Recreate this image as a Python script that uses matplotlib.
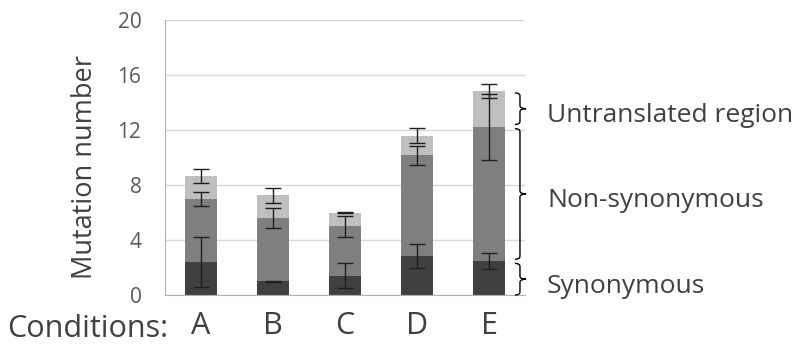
import numpy as np
import matplotlib
matplotlib.use("Agg")
import matplotlib.pyplot as plt
from matplotlib.path import Path
from matplotlib.patches import PathPatch

plt.rcParams['font.family'] = ['Open Sans', 'DejaVu Sans']

conditions = ['A', 'B', 'C', 'D', 'E']
synonymous = [2.4, 1.0, 1.4, 2.85, 2.45]
non_synonymous = [4.6, 4.6, 3.6, 7.3, 9.8]
untranslated = [1.65, 1.65, 1.0, 1.45, 2.6]

syn_err = [1.8, 0.05, 0.9, 0.86, 0.57]
nonsyn_err = [0.52, 0.76, 0.75, 0.7, 2.4]
utr_err = [0.52, 0.53, 0.05, 0.53, 0.53]

layers = [
    (synonymous, syn_err, '#404040', 'Synonymous'),
    (non_synonymous, nonsyn_err, '#7f7f7f', 'Non-synonymous'),
    (untranslated, utr_err, '#bfbfbf', 'Untranslated region'),
]

text_col = '#404040'

fig = plt.figure(figsize=(7.96, 3.44), dpi=100)
ax = fig.add_axes([165 / 796, 1 - 295 / 344, 360 / 796, 275 / 344])

x = np.arange(len(conditions))
bottom = np.zeros(len(conditions))
for vals, errs, col, name in layers:
    vals = np.array(vals)
    ax.bar(x, vals, 0.44, bottom=bottom, color=col, zorder=2)
    top = bottom + vals
    ax.errorbar(x, top, yerr=errs, fmt='none', ecolor='#1e1e1e',
                elinewidth=1.0, capsize=5.5, capthick=1.0, zorder=3)
    bottom = top

ax.set_xlim(-0.5, 4.5)
ax.set_ylim(0, 20)
ax.set_yticks([0, 4, 8, 12, 16, 20])
ax.set_xticks(x)
ax.set_xticklabels(conditions)
ax.yaxis.grid(True, color='#d9d9d9', linewidth=1.0, zorder=0)
ax.set_axisbelow(True)
for s in ['top', 'right']:
    ax.spines[s].set_visible(False)
ax.spines['left'].set_color('#b0b0b0')
ax.spines['bottom'].set_color('#b0b0b0')
ax.tick_params(axis='y', length=0, pad=17, labelsize=15, labelcolor='#595959')
ax.tick_params(axis='x', length=0, pad=11.5, labelsize=22, labelcolor=text_col)

fig.text(85 / 796, 1 - 167 / 344, 'Mutation number', rotation=90,
         ha='center', va='center', fontsize=19.5, color=text_col)
ax.annotate('Conditions:', xy=(-0.5 + (168 - 165) / 72, 0),
            xycoords=ax.get_xaxis_transform(), xytext=(0, -30),
            textcoords='offset points', ha='right', va='baseline',
            fontsize=22, color=text_col, annotation_clip=False)


# curly braces next to the last bar, one per segment
def brace(y0, y1, x_hook=4.36, x_line=4.43, x_tip=4.515, r=0.22):
    mid = (y0 + y1) / 2
    verts = [(x_hook, y1), (x_line, y1), (x_line, y1 - r),
             (x_line, mid + r), (x_line, mid), (x_tip, mid),
             (x_line, mid), (x_line, mid - r),
             (x_line, y0 + r), (x_line, y0), (x_hook, y0)]
    codes = [Path.MOVETO, Path.CURVE3, Path.CURVE3,
             Path.LINETO, Path.CURVE3, Path.CURVE3,
             Path.CURVE3, Path.CURVE3,
             Path.LINETO, Path.CURVE3, Path.CURVE3]
    ax.add_patch(PathPatch(Path(verts, codes), fill=False, edgecolor='black',
                           linewidth=1.0, clip_on=False, zorder=4))
    return mid


gap = 0.15
y = 0.0
for vals, errs, col, name in layers:
    lo, hi = y, y + vals[-1]
    mid = brace(lo + (gap if lo > 0 else 0), hi - gap)
    ax.annotate(name, xy=(4.806, mid), xytext=(0, -5),
                textcoords='offset points', ha='left', va='center',
                fontsize=19, color=text_col, annotation_clip=False)
    y = hi

fig.savefig('out.png', dpi=100)
